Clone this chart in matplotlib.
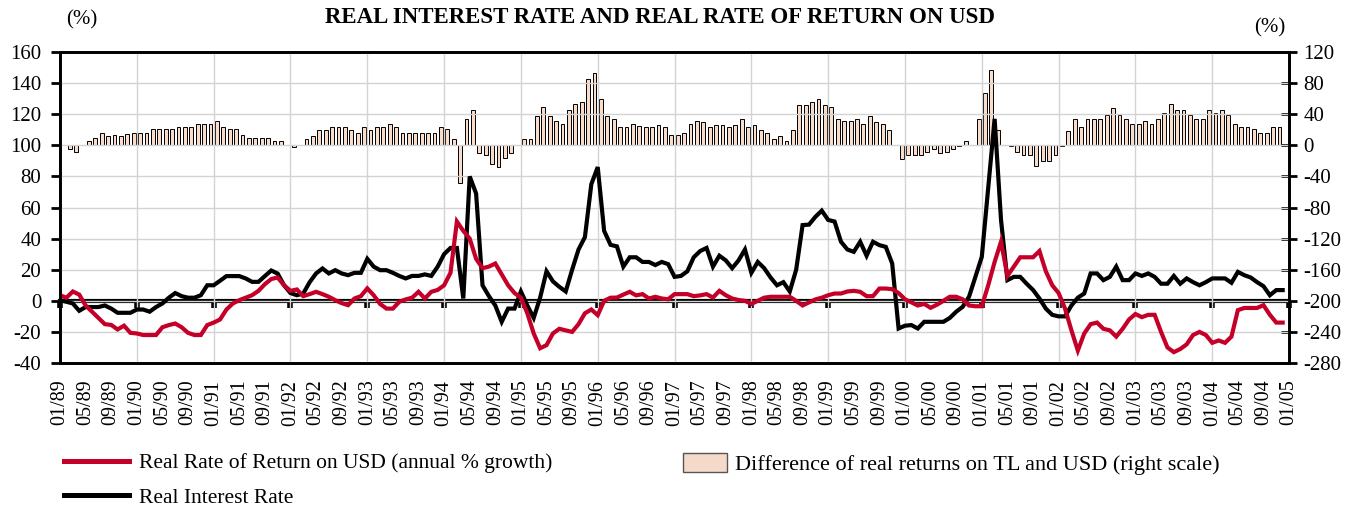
import matplotlib
matplotlib.use("Agg")
import matplotlib.pyplot as plt
from matplotlib.patches import Patch
from matplotlib.lines import Line2D

plt.rcParams['font.family'] = ['Liberation Serif', 'DejaVu Serif']
plt.rcParams['axes.unicode_minus'] = False

# monthly data, 01/89 .. 12/04 (one row per year)
usd_return = [
    3.6, 2, 6, 4, -3, -7, -11, -15, -15.5, -18.4, -16, -20.6,
    -21, -22, -22, -22, -17, -15.6, -14.6, -17, -20.6, -22, -22, -15.6,
    -14, -12, -5.6, -1.7, 0.4, 2, 3.6, 6.4, 10.7, 14, 15, 10,
    6.4, 7.3, 3, 4.3, 5.8, 4.3, 2.6, 0.4, -1.5, -2.8, 1.5, 3,
    8, 3.6, -2, -5, -5, -0.6, 0.9, 2, 5.8, 1.5, 5.8, 7,
    10, 18, 51, 45, 40, 27, 21, 22, 24, 17, 10, 5,
    2, -8, -21, -30.5, -28.5, -21, -18, -19, -20, -15, -8, -5.6,
    -9.2, 0, 2, 2.1, 4, 5.8, 3.5, 4.3, 1.5, 2.6, 1.5, 1,
    4.3, 4.3, 4.3, 3, 3.5, 4.3, 2.1, 6.4, 3.6, 1.5, 0.5, 0,
    -2, 0, 2, 2.6, 2.6, 2.6, 2.6, 0, -3, -1, 0.9, 2,
    3.6, 4.7, 4.7, 6, 6.4, 5.8, 3, 3, 7.9, 7.9, 7.5, 5,
    1, -1, -3, -2, -4.5, -2.5, 0, 2.6, 2.6, 1, -3, -3.5,
    -3.5, 10, 25, 38, 16, 22, 28, 28, 28, 32, 19, 10,
    5, -5, -19, -32, -21, -15, -14, -18, -19, -23, -18, -12,
    -8.5, -10.5, -9, -9, -20, -30, -33, -31, -28, -22, -20, -22,
    -27, -25.5, -27, -23, -6, -4.6, -4.6, -4.6, -2.8, -9, -14, -14,
]

real_interest = [
    0.4, -0.6, -1.7, -6.4, -4, -4, -4, -3, -5, -7.7, -7.7, -7.7,
    -5.6, -5.6, -7, -4, -1.7, 2, 5, 3, 2, 2, 3.6, 10,
    10, 12.9, 15.9, 15.9, 15.9, 14.4, 12.2, 12.2, 15.9, 19.5, 17.5, 10,
    5, 3.6, 4.7, 12, 17.6, 20.8, 17.6, 19.7, 17.6, 16.5, 18, 18,
    27, 22, 19.7, 19.7, 18, 16, 14.4, 16, 16, 17, 16, 22,
    30, 34, 34, 1.5, 80, 69, 10, 3, -3, -13.5, -5, -5,
    6, -3, -11, 2, 19, 12.5, 9, 6, 20, 33, 41, 75,
    86, 45, 36, 35, 22, 28, 28, 25, 25, 23, 25, 23.6,
    15.4, 16, 19, 28, 32, 34, 22, 29, 26, 21, 26, 33,
    18, 25, 21, 15, 10, 12, 6, 20, 48.7, 49, 54, 58,
    52, 51, 38, 33, 31.5, 38, 29, 38, 35.8, 34.7, 24, -17.8,
    -16, -15.6, -17.8, -13.5, -13.5, -13.5, -13.5, -11, -7, -3.9, 2.6, 15.4,
    28.3, 73, 117, 52, 13.3, 15.4, 15.4, 11, 7, 1.5, -5, -9,
    -10, -10, -3, 2, 4.7, 17.6, 17.6, 13.3, 15.4, 22, 13.3, 13.3,
    17.6, 16, 17.6, 15.4, 11, 11, 16, 11, 14.4, 12, 10, 12,
    14.4, 14.4, 14.4, 11.6, 18.6, 16.5, 15, 12, 9.4, 3.6, 6.9, 6.9,
]

# difference of real returns on TL and USD (right scale)
rate_diff = [
    0, -5, -9, 0, 5, 9, 16, 12, 13, 12, 15, 16,
    16, 16, 21, 21, 21, 21, 24, 24, 24, 28, 28, 28,
    31, 24, 20.6, 20.6, 13, 9, 9, 9, 9, 5, 5, 0,
    -2, 0, 8.6, 12, 19.7, 19.7, 23.6, 23.6, 23.6, 19.7, 16.3, 23.6,
    19.7, 23.6, 23.6, 27, 23.6, 16.3, 16.3, 16.3, 16.3, 16.3, 16.3, 23.6,
    20.6, 8.6, -49, 34, 45, -10, -13, -24, -27.4, -16.7, -10, 0,
    8.6, 8.6, 37.7, 49.3, 37.7, 31, 27, 45, 52.7, 56, 85, 92.6,
    60, 37.7, 34.3, 23.6, 23.6, 27, 25, 23.6, 23.6, 26, 23.6, 12.9,
    12.9, 15.4, 27, 31, 30, 24, 26, 26, 23, 26, 34, 23,
    26, 20, 16, 8.6, 12, 5, 20, 52, 52, 56, 60, 52,
    49, 34, 31, 31, 34, 27, 38, 30, 27, 20, 0, -17,
    -13, -13, -13, -9, -5, -9.4, -8.6, -5, -1, 5, 0, 34,
    67, 97, 20, 0, -1.5, -8.6, -13, -13, -27, -20, -20, -13,
    -1, 19, 34, 24, 34, 34, 34, 38.6, 48.4, 38.6, 34.3, 27,
    27, 31, 27, 34.3, 42, 52.7, 45.4, 45.4, 38.6, 34.3, 34.3, 45.4,
    42, 45.4, 38.6, 27, 24, 24, 20.6, 16.3, 16.3, 24, 24, None,
]

tick_labels = [f"{m:02d}/{y % 100:02d}" for y in range(1989, 2005) for m in (1, 5, 9)] + ["01/05"]

RED = '#C40028'
FS = 15

fig = plt.figure(figsize=(13.67, 5.08), dpi=100)
ax = fig.add_axes([0.0439, 0.2854, 0.8991, 0.6122])
ax2 = ax.twinx()
ax.set_zorder(ax2.get_zorder() + 1)
ax.patch.set_visible(False)

x = list(range(len(usd_return)))
xb = [k + 0.5 for k in range(len(rate_diff))]
bars = [v if v is not None else float('nan') for v in rate_diff]

ax2.bar(xb, bars, width=0.6, color='#F9DCC9', edgecolor='black', linewidth=0.7)
ax.plot(x, real_interest, color='black', lw=3.0, solid_joinstyle='miter')
ax.plot(x, usd_return, color=RED, lw=3.0, solid_joinstyle='miter')

ax.set_xlim(0, 192)
ax.set_ylim(-40, 160)
ax2.set_ylim(-280, 120)

ax.set_yticks(range(-40, 161, 20))
ax.set_yticklabels([str(v) for v in range(-40, 161, 20)])
ax2.set_yticks(range(-280, 121, 40))
ax2.set_yticklabels([str(v) for v in range(-280, 121, 40)])

ax.set_xticks(range(0, 193, 4))
ax.set_xticklabels(tick_labels, rotation=90)
ax.set_xticks(range(0, 193, 12), minor=True)
ax.xaxis.remove_overlapping_locs = False
ax.tick_params(axis='x', which='both', length=0, labelsize=14.5, pad=12)
ax.tick_params(axis='y', direction='out', length=6.5, width=2, labelsize=FS, pad=7)
ax2.tick_params(axis='y', direction='inout', length=11, width=2, labelsize=FS, pad=5)

ax.grid(which='major', axis='y', color='#D3D3D3', lw=1)
ax.grid(which='minor', axis='x', color='#D3D3D3', lw=1)
ax.set_axisbelow(True)

for a in (ax, ax2):
    for s in a.spines.values():
        s.set_linewidth(2)

# zero line with year ticks
zero = ax.secondary_xaxis(0.2)
zero.set_xticks(range(0, 193, 12))
zero.tick_params(axis='x', direction='out', length=5, width=4, labelbottom=False)
zero.spines['bottom'].set_linewidth(3)

fig.text(0.483, 0.966, 'REAL INTEREST RATE AND REAL RATE OF RETURN ON USD',
         ha='center', va='center', fontsize=16.5, fontweight='bold')
fig.text(0.060, 0.960, '(%)', ha='center', va='center', fontsize=FS)
fig.text(0.929, 0.946, '(%)', ha='center', va='center', fontsize=FS)

LFS = 15.5
fig.legend(handles=[Line2D([], [], color=RED, lw=3.6), Line2D([], [], color='black', lw=3.6)],
           labels=['Real Rate of Return on USD (annual % growth)', 'Real Interest Rate'],
           loc='upper left', bbox_to_anchor=(0.047, 0.108), frameon=False,
           fontsize=LFS, handlelength=3.0, handletextpad=0.45, labelspacing=0.68,
           borderpad=0, borderaxespad=0)
fig.legend(handles=[Patch(facecolor='#F5DACA', edgecolor='#555555', lw=1)],
           labels=['Difference of real returns on TL and USD (right scale)'],
           loc='upper left', bbox_to_anchor=(0.4995, 0.108), frameon=False,
           fontsize=16, handlelength=2.0, handleheight=0.95, handletextpad=0.35,
           borderpad=0, borderaxespad=0)

fig.savefig('out.png', dpi=100)
